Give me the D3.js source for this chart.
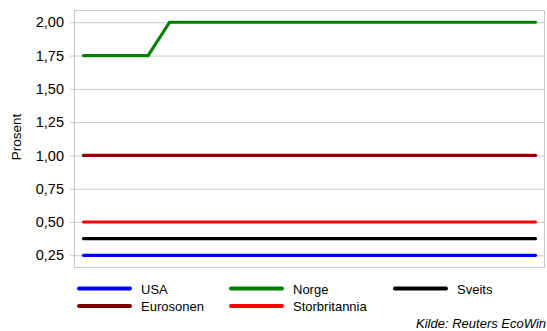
<!DOCTYPE html>
<html>
<head>
<meta charset="utf-8">
<script src="https://cdn.jsdelivr.net/npm/d3@7/dist/d3.min.js"></script>
<style>
  html, body { margin: 0; padding: 0; background: #fff; }
  svg { display: block; font-family: "Liberation Sans", Arial, sans-serif; }
</style>
</head>
<body>
<svg id="chart" width="547" height="331"></svg>
<script>
// Policy rates, per period
const periods = d3.range(22);
const usa           = periods.map(() => 0.25);
const norge         = [1.75, 1.75, 1.75, 1.75, 2.00, 2.00, 2.00, 2.00, 2.00, 2.00, 2.00,
                       2.00, 2.00, 2.00, 2.00, 2.00, 2.00, 2.00, 2.00, 2.00, 2.00, 2.00];
const sveits        = periods.map(() => 0.375);
const eurosonen     = periods.map(() => 1.00);
const storbritannia = periods.map(() => 0.50);

const yTicks = [0.25, 0.50, 0.75, 1.00, 1.25, 1.50, 1.75, 2.00];

const series = [
  { name: "USA",           values: usa,           color: "#0000ff" },
  { name: "Norge",         values: norge,         color: "#008000" },
  { name: "Sveits",        values: sveits,        color: "#000000" },
  { name: "Eurosonen",     values: eurosonen,     color: "#800000" },
  { name: "Storbritannia", values: storbritannia, color: "#ff0000" }
];

const svg = d3.select("#chart");
const plot = { left: 74, right: 544, top: 10, bottom: 267 };

const x = d3.scaleLinear()
  .domain([0, periods.length - 1])
  .range([83.5, 535.5]);

const y = d3.scaleLinear()
  .domain([0.162, 2.092])
  .range([plot.bottom, plot.top]);

const fmt = v => d3.format(".2f")(v).replace(".", ",");

// Gridlines with small outward ticks
const yAxis = d3.axisLeft(y)
  .tickValues(yTicks)
  .tickFormat(fmt)
  .tickSize(-(plot.right - plot.left))
  .tickPadding(10);

const gAxis = svg.append("g")
  .attr("transform", `translate(${plot.left},0)`)
  .call(yAxis);
gAxis.select(".domain").remove();
gAxis.selectAll(".tick line")
  .attr("x1", -4)
  .attr("stroke", "#c8c8c8")
  .attr("stroke-width", 1);
gAxis.selectAll(".tick text")
  .attr("fill", "#000")
  .attr("font-size", 14.5)
  .attr("font-family", "'Liberation Sans', Arial, sans-serif");

// Plot frame
svg.append("rect")
  .attr("x", plot.left + 0.5)
  .attr("y", plot.top + 0.5)
  .attr("width", plot.right - plot.left)
  .attr("height", plot.bottom - plot.top)
  .attr("fill", "none")
  .attr("stroke", "#c8c8c8")
  .attr("stroke-width", 1);

// Y-axis title
svg.append("text")
  .attr("transform", `translate(21,137) rotate(-90)`)
  .attr("text-anchor", "middle")
  .attr("font-size", 13.5)
  .attr("fill", "#000")
  .text("Prosent");

// Series lines
const line = d3.line()
  .x((d, i) => x(periods[i]))
  .y(d => y(d));

const drawOrder = ["Eurosonen", "Storbritannia", "Sveits", "USA", "Norge"];
drawOrder.forEach(n => {
  const s = series.find(d => d.name === n);
  svg.append("path")
    .datum(s.values)
    .attr("d", line)
    .attr("fill", "none")
    .attr("stroke", s.color)
    .attr("stroke-width", 3.2)
    .attr("stroke-linejoin", "miter")
    .attr("stroke-linecap", "round");
});

// Legend
const legendItems = [
  { name: "USA",           col: 0, row: 0 },
  { name: "Norge",         col: 1, row: 0 },
  { name: "Sveits",        col: 2, row: 0 },
  { name: "Eurosonen",     col: 0, row: 1 },
  { name: "Storbritannia", col: 1, row: 1 }
];
const colX = [79, 231, 395];
const rowY = [288.5, 306];
const legend = svg.append("g");
legendItems.forEach(it => {
  const s = series.find(d => d.name === it.name);
  const g = legend.append("g")
    .attr("transform", `translate(${colX[it.col]},${rowY[it.row]})`);
  g.append("line")
    .attr("x1", 0).attr("x2", 51)
    .attr("y1", 0).attr("y2", 0)
    .attr("stroke", s.color)
    .attr("stroke-width", 4)
    .attr("stroke-linecap", "round");
  g.append("text")
    .attr("x", 62)
    .attr("y", 5)
    .attr("font-size", 13)
    .attr("fill", "#000")
    .text(s.name);
});

// Source note
svg.append("text")
  .attr("x", 546)
  .attr("y", 328)
  .attr("text-anchor", "end")
  .attr("font-size", 13)
  .attr("font-style", "italic")
  .attr("fill", "#000")
  .text("Kilde: Reuters EcoWin");
</script>
</body>
</html>
